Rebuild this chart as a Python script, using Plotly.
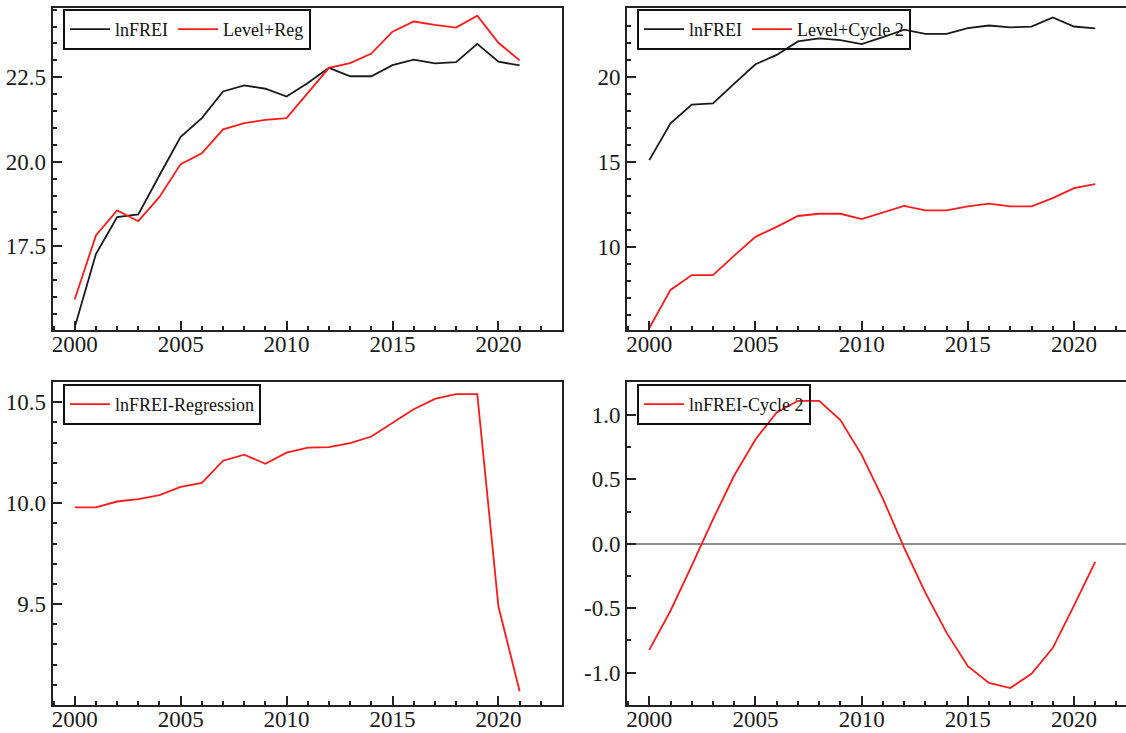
import plotly.graph_objects as go

# ---------------- data ----------------
years = list(range(2000, 2022))
lnfrei = [15.10, 17.27, 18.36, 18.44, 19.60, 20.74, 21.29, 22.08, 22.26, 22.16, 21.93,
          22.33, 22.78, 22.53, 22.53, 22.86, 23.02, 22.91, 22.95, 23.49, 22.96, 22.85]
level_reg = [15.93, 17.82, 18.56, 18.24, 18.96, 19.93, 20.25, 20.96, 21.14, 21.24, 21.29,
             22.03, 22.78, 22.92, 23.20, 23.85, 24.15, 24.05, 23.97, 24.32, 23.52, 23.00]
level_cycle2 = [5.22, 7.46, 8.33, 8.33, 9.48, 10.58, 11.17, 11.81, 11.94, 11.94, 11.63,
                12.02, 12.40, 12.14, 12.14, 12.38, 12.54, 12.38, 12.38, 12.86, 13.45, 13.69]
lnfrei_regression = [9.979, 9.979, 10.008, 10.020, 10.040, 10.080, 10.100, 10.210, 10.240,
                     10.195, 10.250, 10.275, 10.277, 10.297, 10.330, 10.396, 10.465, 10.516,
                     10.540, 10.540, 9.488, 9.068]
lnfrei_cycle2 = [-0.824, -0.52, -0.17, 0.19, 0.53, 0.81, 1.02, 1.11, 1.11, 0.96, 0.69,
                 0.35, -0.03, -0.38, -0.69, -0.95, -1.08, -1.12, -1.01, -0.81, -0.48, -0.14]

x_tickvals = [2000, 2005, 2010, 2015, 2020]
y1_ticks = [17.5, 20.0, 22.5]
y2_ticks = [10, 15, 20]
y3_ticks = [9.5, 10.0, 10.5]
y4_ticks = [-1.0, -0.5, 0.0, 0.5, 1.0]
y4_ticktext = ["-1.0", "-0.5", "0.0", "0.5", "1.0"]

# ---------------- styling ----------------
W, H = 1126, 733
FONT = "Liberation Serif"
AX = "#222222"
RED = "#ff1a1a"
BLK = "#1a1a1a"
LW = 1.8

fig = go.Figure()

fig.add_trace(go.Scatter(x=years, y=lnfrei, name="lnFREI", mode="lines",
                         line=dict(color=BLK, width=LW), xaxis="x", yaxis="y", legend="legend"))
fig.add_trace(go.Scatter(x=years, y=level_reg, name="Level+Reg", mode="lines",
                         line=dict(color=RED, width=LW), xaxis="x", yaxis="y", legend="legend"))
fig.add_trace(go.Scatter(x=years, y=lnfrei, name="lnFREI", mode="lines",
                         line=dict(color=BLK, width=LW), xaxis="x2", yaxis="y2", legend="legend2"))
fig.add_trace(go.Scatter(x=years, y=level_cycle2, name="Level+Cycle 2", mode="lines",
                         line=dict(color=RED, width=LW), xaxis="x2", yaxis="y2", legend="legend2"))
fig.add_trace(go.Scatter(x=years, y=lnfrei_regression, name="lnFREI-Regression", mode="lines",
                         line=dict(color=RED, width=LW), xaxis="x3", yaxis="y3", legend="legend3"))
fig.add_trace(go.Scatter(x=years, y=lnfrei_cycle2, name="lnFREI-Cycle 2", mode="lines",
                         line=dict(color=RED, width=LW), xaxis="x4", yaxis="y4", legend="legend4"))

L0, L1 = 52.5 / W, 562 / W
R0, R1 = 627 / W, 1.0
T_top, T_bot = 1 - 8 / H, 1 - 330 / H
B_top, B_bot = 1 - 382 / H, 1 - 705 / H

tickfont = dict(family=FONT, size=23, color="#1a1a1a")


def xax(domain, anchor, rng):
    return dict(domain=domain, anchor=anchor, range=rng, tickmode="array", tickvals=x_tickvals,
                ticks="inside", ticklen=9, tickwidth=2, tickcolor=AX,
                minor=dict(tickmode="linear", tick0=2000, dtick=1, ticks="inside", ticklen=4,
                           tickwidth=2, tickcolor=AX),
                showline=True, linecolor=AX, linewidth=2, mirror=True, automargin=False,
                showgrid=False, zeroline=False, tickfont=tickfont, tickformat="d",
                ticklabelstandoff=-8)


def yax(domain, anchor, rng, tickvals, ticktext, minor_dtick, minor_tick0, mirror, zeroline=False):
    return dict(domain=domain, anchor=anchor, range=rng, tickmode="array", tickvals=tickvals,
                ticktext=ticktext, ticks="inside", ticklen=9, tickwidth=2, tickcolor=AX,
                minor=dict(tickmode="linear", tick0=minor_tick0, dtick=minor_dtick, ticks="inside",
                           ticklen=4, tickwidth=2, tickcolor=AX),
                showline=True, linecolor=AX, linewidth=2, mirror=mirror, automargin=False,
                showgrid=False, zeroline=zeroline, zerolinecolor="#8c8c8c", zerolinewidth=2,
                tickfont=tickfont)


legend_common = dict(orientation="h", xanchor="left", yanchor="top", bgcolor="rgba(0,0,0,0)",
                     bordercolor="#111111", borderwidth=2,
                     font=dict(family=FONT, size=18, color="#111111"),
                     itemwidth=40, tracegroupgap=0)

fig.update_layout(
    width=W, height=H, margin=dict(l=0, r=0, t=0, b=0, autoexpand=False),
    font=dict(family=FONT, size=22, color="#1a1a1a"),
    paper_bgcolor="white", plot_bgcolor="white", showlegend=True,
    xaxis=xax([L0, L1], "y", [1998.95, 2023.0]),
    yaxis=yax([T_bot, T_top], "x", [15.02, 24.55], y1_ticks,
              ["%.1f" % v for v in y1_ticks], 0.5, 15.0, True),
    xaxis2=xax([R0, R1], "y2", [1998.95, 2022.45]),
    yaxis2=yax([T_bot, T_top], "x2", [5.1, 24.05], y2_ticks,
               ["%d" % v for v in y2_ticks], 1, 0, False),
    xaxis3=xax([L0, L1], "y3", [1998.95, 2023.0]),
    yaxis3=yax([B_bot, B_top], "x3", [9.0, 10.6], y3_ticks,
               ["%.1f" % v for v in y3_ticks], 0.1, 9.0, True),
    xaxis4=xax([R0, R1], "y4", [1998.95, 2022.45]),
    yaxis4=yax([B_bot, B_top], "x4", [-1.252, 1.256], y4_ticks, y4_ticktext, 0.25, 0, False,
               zeroline=True),
    legend=dict(legend_common, x=63 / W, y=1 - 9 / H),
    legend2=dict(legend_common, x=637 / W, y=1 - 9 / H),
    legend3=dict(legend_common, x=63 / W, y=1 - 384 / H),
    legend4=dict(legend_common, x=637 / W, y=1 - 384 / H),
)

fig.write_html("out.html", config={"displayModeBar": False},
               post_script="document.body.style.margin='0px';document.body.style.overflow='hidden';")
